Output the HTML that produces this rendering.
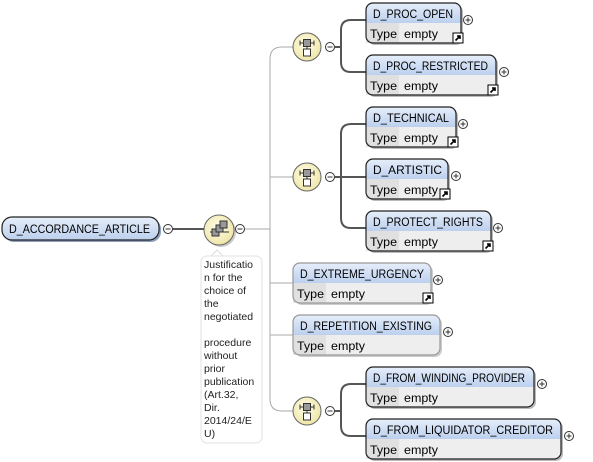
<!DOCTYPE html>
<html><head><meta charset="utf-8"><style>
html,body{margin:0;padding:0;background:#fff;width:593px;height:462px;overflow:hidden}
text{font-family:"Liberation Sans",sans-serif}
</style></head><body>
<svg width="593" height="462" viewBox="0 0 593 462" xmlns="http://www.w3.org/2000/svg">
<defs>
<linearGradient id="hd" x1="0" y1="0" x2="0" y2="1"><stop offset="0" stop-color="#e6eefa"/><stop offset="1" stop-color="#bcd0ee"/></linearGradient>
<radialGradient id="yc" cx="0.45" cy="0.4" r="0.6"><stop offset="0" stop-color="#fffde8"/><stop offset="1" stop-color="#efe6a8"/></radialGradient>
<g id="lnk"><rect x="0" y="0" width="10" height="10" fill="#fff" stroke="#000"/><path d="M2.5 7.5 L7 3 M4 3 H7 V6" stroke="#000" stroke-width="1.6" fill="none"/></g>
<g id="plus"><circle r="4.5" fill="#fff" stroke="#333"/><path d="M-2.5 0H2.5M0 -2.5V2.5" stroke="#333"/></g>
<g id="minus"><circle r="4.5" fill="#fff" stroke="#333"/><path d="M-2.5 0H2.5" stroke="#333"/></g>
<g id="choice"><circle r="14" fill="url(#yc)" stroke="#666"/><path d="M-7 -4H7M-7 -6.5V-1.5M7 -6.5V-1.5M0 -4V3" stroke="#333" fill="none"/><rect x="-3.5" y="-7.5" width="7" height="7" fill="#999" stroke="#333"/><rect x="-3.5" y="2" width="7" height="7" fill="#fff" stroke="#333"/></g>
</defs>

<g fill="none" stroke="#aaa" stroke-width="1">
<path d="M245 229H270"/>
<path d="M321 47H282Q270 47 270 59V399Q270 411 282 411H321"/>
<path d="M270 177H321"/>
<path d="M270 283H293"/>
<path d="M270 335H293"/>
</g>
<g fill="none" stroke="#555" stroke-width="2">
<path d="M173 229H204"/>
<path d="M335 47H341M366 20H351Q341 20 341 30V62Q341 72 351 72H366"/>
<path d="M335 177H366M366 124H351Q341 124 341 134V218Q341 228 351 228H366"/>
<path d="M335 411H341M366 384H351Q341 384 341 394V426Q341 436 351 436H366"/>
</g>

<rect x="4" y="219" width="157" height="23" rx="10" fill="#8da0bd"/>
<rect x="2" y="217" width="157" height="23" rx="10" fill="url(#hd)" stroke="#222" stroke-width="1.2"/>
<text x="9" y="233" font-size="11.5" textLength="141" lengthAdjust="spacingAndGlyphs">D_ACCORDANCE_ARTICLE</text>
<use href="#minus" x="168" y="229"/>

<circle cx="221" cy="232" r="15" fill="#ccc"/>
<circle cx="219" cy="230" r="15" fill="url(#yc)" stroke="#666"/>
<g stroke="#333" fill="#999"><path d="M210 232H229" fill="none"/><rect x="212" y="229" width="7" height="7"/><rect x="216" y="225" width="7" height="7"/><rect x="220" y="221" width="7" height="7"/></g>
<use href="#minus" x="240" y="229"/>

<path d="M211 256L217 250L223 256" fill="#fff" stroke="#ddd"/>
<rect x="201" y="256" width="61" height="187" rx="6" fill="#fff" stroke="#e2e2e2"/>
<g font-size="10.5" fill="#222">
<text x="204" y="268">Justificatio</text><text x="204" y="281">n for the</text><text x="204" y="294">choice of</text><text x="204" y="307">the</text><text x="204" y="320">negotiated</text>
<text x="204" y="346">procedure</text><text x="204" y="359">without</text><text x="204" y="372">prior</text><text x="204" y="385">publication</text><text x="204" y="398"> (Art.32,</text><text x="204" y="411">Dir.</text><text x="204" y="424">2014/24/E</text><text x="204" y="437">U)</text>
</g>

<use href="#choice" x="307" y="47"/><use href="#minus" x="330" y="47"/>
<use href="#choice" x="307" y="177"/><use href="#minus" x="330" y="177"/>
<use href="#choice" x="307" y="411"/><use href="#minus" x="330" y="411"/>

<g font-size="11.5">
<g transform="translate(366,3)"><rect x="2" y="2" width="95" height="40" rx="7" fill="#bbb"/><rect width="95" height="40" rx="7" fill="#eee"/><path d="M0 20V7Q0 0 7 0H88Q95 0 95 7V20Z" fill="url(#hd)"/><rect x="0" y="20" width="33" height="20" fill="#e0e0e0"/><rect width="95" height="40" rx="7" fill="none" stroke="#222" stroke-width="1.2"/><text x="7" y="15" textLength="80" lengthAdjust="spacingAndGlyphs">D_PROC_OPEN</text><text x="4" y="35" textLength="27" lengthAdjust="spacingAndGlyphs">Type</text><text x="38" y="35" textLength="34" lengthAdjust="spacingAndGlyphs">empty</text></g>
<use href="#lnk" x="453" y="33"/><use href="#plus" x="468" y="20"/>

<g transform="translate(366,55)"><rect x="2" y="2" width="130" height="40" rx="7" fill="#bbb"/><rect width="130" height="40" rx="7" fill="#eee"/><path d="M0 20V7Q0 0 7 0H123Q130 0 130 7V20Z" fill="url(#hd)"/><rect x="0" y="20" width="33" height="20" fill="#e0e0e0"/><rect width="130" height="40" rx="7" fill="none" stroke="#222" stroke-width="1.2"/><text x="7" y="15" textLength="115" lengthAdjust="spacingAndGlyphs">D_PROC_RESTRICTED</text><text x="4" y="35" textLength="27" lengthAdjust="spacingAndGlyphs">Type</text><text x="38" y="35" textLength="34" lengthAdjust="spacingAndGlyphs">empty</text></g>
<use href="#lnk" x="488" y="85"/><use href="#plus" x="504" y="72"/>

<g transform="translate(366,107)"><rect x="2" y="2" width="90" height="40" rx="7" fill="#bbb"/><rect width="90" height="40" rx="7" fill="#eee"/><path d="M0 20V7Q0 0 7 0H83Q90 0 90 7V20Z" fill="url(#hd)"/><rect x="0" y="20" width="33" height="20" fill="#e0e0e0"/><rect width="90" height="40" rx="7" fill="none" stroke="#222" stroke-width="1.2"/><text x="7" y="15" textLength="76" lengthAdjust="spacingAndGlyphs">D_TECHNICAL</text><text x="4" y="35" textLength="27" lengthAdjust="spacingAndGlyphs">Type</text><text x="38" y="35" textLength="34" lengthAdjust="spacingAndGlyphs">empty</text></g>
<use href="#lnk" x="448" y="137"/><use href="#plus" x="463" y="124"/>

<g transform="translate(366,159)"><rect x="2" y="2" width="82" height="40" rx="7" fill="#bbb"/><rect width="82" height="40" rx="7" fill="#eee"/><path d="M0 20V7Q0 0 7 0H75Q82 0 82 7V20Z" fill="url(#hd)"/><rect x="0" y="20" width="33" height="20" fill="#e0e0e0"/><rect width="82" height="40" rx="7" fill="none" stroke="#222" stroke-width="1.2"/><text x="7" y="15" textLength="69" lengthAdjust="spacingAndGlyphs">D_ARTISTIC</text><text x="4" y="35" textLength="27" lengthAdjust="spacingAndGlyphs">Type</text><text x="38" y="35" textLength="34" lengthAdjust="spacingAndGlyphs">empty</text></g>
<use href="#lnk" x="440" y="189"/><use href="#plus" x="456" y="176"/>

<g transform="translate(366,211)"><rect x="2" y="2" width="125" height="40" rx="7" fill="#bbb"/><rect width="125" height="40" rx="7" fill="#eee"/><path d="M0 20V7Q0 0 7 0H118Q125 0 125 7V20Z" fill="url(#hd)"/><rect x="0" y="20" width="33" height="20" fill="#e0e0e0"/><rect width="125" height="40" rx="7" fill="none" stroke="#222" stroke-width="1.2"/><text x="7" y="15" textLength="110" lengthAdjust="spacingAndGlyphs">D_PROTECT_RIGHTS</text><text x="4" y="35" textLength="27" lengthAdjust="spacingAndGlyphs">Type</text><text x="38" y="35" textLength="34" lengthAdjust="spacingAndGlyphs">empty</text></g>
<use href="#lnk" x="483" y="241"/><use href="#plus" x="498" y="228"/>

<g transform="translate(293,263)"><rect x="2" y="2" width="138" height="40" rx="7" fill="#ccc"/><rect width="138" height="40" rx="7" fill="#eee"/><path d="M0 20V7Q0 0 7 0H131Q138 0 138 7V20Z" fill="url(#hd)"/><rect x="0" y="20" width="33" height="20" fill="#e0e0e0"/><rect width="138" height="40" rx="7" fill="none" stroke="#999" stroke-width="1.2"/><text x="7" y="15" textLength="124" lengthAdjust="spacingAndGlyphs">D_EXTREME_URGENCY</text><text x="4" y="35" textLength="27" lengthAdjust="spacingAndGlyphs">Type</text><text x="38" y="35" textLength="34" lengthAdjust="spacingAndGlyphs">empty</text></g>
<use href="#lnk" x="423" y="293"/><use href="#plus" x="438" y="280"/>

<g transform="translate(293,315)"><rect x="2" y="2" width="147" height="40" rx="7" fill="#ccc"/><rect width="147" height="40" rx="7" fill="#eee"/><path d="M0 20V7Q0 0 7 0H140Q147 0 147 7V20Z" fill="url(#hd)"/><rect x="0" y="20" width="33" height="20" fill="#e0e0e0"/><rect width="147" height="40" rx="7" fill="none" stroke="#999" stroke-width="1.2"/><text x="7" y="15" textLength="132" lengthAdjust="spacingAndGlyphs">D_REPETITION_EXISTING</text><text x="4" y="35" textLength="27" lengthAdjust="spacingAndGlyphs">Type</text><text x="38" y="35" textLength="34" lengthAdjust="spacingAndGlyphs">empty</text></g>
<use href="#plus" x="448" y="332"/>

<g transform="translate(366,367)"><rect x="2" y="2" width="168" height="40" rx="7" fill="#bbb"/><rect width="168" height="40" rx="7" fill="#eee"/><path d="M0 20V7Q0 0 7 0H161Q168 0 168 7V20Z" fill="url(#hd)"/><rect x="0" y="20" width="33" height="20" fill="#e0e0e0"/><rect width="168" height="40" rx="7" fill="none" stroke="#222" stroke-width="1.2"/><text x="7" y="15" textLength="152" lengthAdjust="spacingAndGlyphs">D_FROM_WINDING_PROVIDER</text><text x="4" y="35" textLength="27" lengthAdjust="spacingAndGlyphs">Type</text><text x="38" y="35" textLength="34" lengthAdjust="spacingAndGlyphs">empty</text></g>
<use href="#plus" x="542" y="384"/>

<g transform="translate(366,419)"><rect x="2" y="2" width="195" height="40" rx="7" fill="#bbb"/><rect width="195" height="40" rx="7" fill="#eee"/><path d="M0 20V7Q0 0 7 0H188Q195 0 195 7V20Z" fill="url(#hd)"/><rect x="0" y="20" width="33" height="20" fill="#e0e0e0"/><rect width="195" height="40" rx="7" fill="none" stroke="#222" stroke-width="1.2"/><text x="7" y="15" textLength="180" lengthAdjust="spacingAndGlyphs">D_FROM_LIQUIDATOR_CREDITOR</text><text x="4" y="35" textLength="27" lengthAdjust="spacingAndGlyphs">Type</text><text x="38" y="35" textLength="34" lengthAdjust="spacingAndGlyphs">empty</text></g>
<use href="#plus" x="569" y="436"/>
</g>
</svg>
</body></html>
